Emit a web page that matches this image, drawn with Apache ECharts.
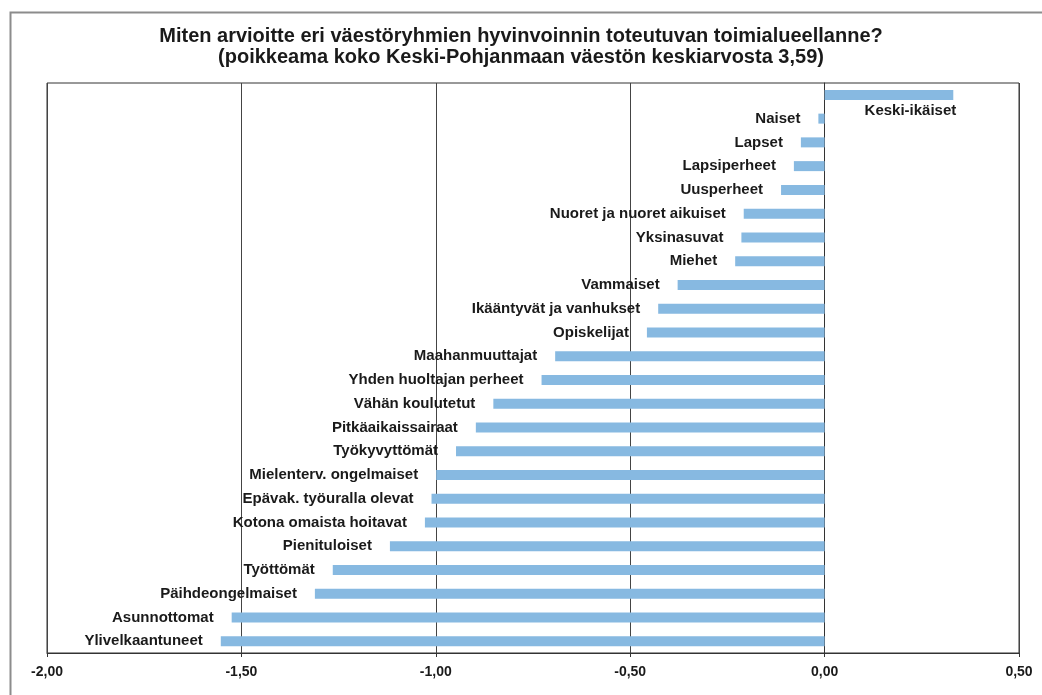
<!DOCTYPE html>
<html>
<head>
<meta charset="utf-8">
<script src="https://cdn.jsdelivr.net/npm/echarts@6/dist/echarts.min.js"></script>
<style>
  html, body { margin: 0; padding: 0; background: #fff; }
  #main { width: 1042px; height: 695px; }
</style>
</head>
<body>
<div id="main"></div>
<script>
// top to bottom, as in the picture
var groups = [
  'Keski-ikäiset', 'Naiset', 'Lapset', 'Lapsiperheet', 'Uusperheet',
  'Nuoret ja nuoret aikuiset', 'Yksinasuvat', 'Miehet', 'Vammaiset',
  'Ikääntyvät ja vanhukset', 'Opiskelijat', 'Maahanmuuttajat',
  'Yhden huoltajan perheet', 'Vähän koulutetut', 'Pitkäaikaissairaat',
  'Työkyvyttömät', 'Mielenterv. ongelmaiset', 'Epävak. työuralla olevat',
  'Kotona omaista hoitavat', 'Pienituloiset', 'Työttömät',
  'Päihdeongelmaiset', 'Asunnottomat', 'Ylivelkaantuneet'
];
var deviation = [
  0.331, -0.016, -0.061, -0.079, -0.112,
  -0.208, -0.214, -0.230, -0.378,
  -0.428, -0.457, -0.693,
  -0.728, -0.852, -0.897,
  -0.948, -0.999, -1.011,
  -1.028, -1.118, -1.265,
  -1.311, -1.525, -1.553
];
var xTicks = [-2, -1.5, -1, -0.5, 0, 0.5];

var chartDom = document.getElementById('main');
var myChart = echarts.init(chartDom);
var font = 'Liberation Sans, Arial, sans-serif';

var barData = deviation.map(function (v) {
  if (v > 0) {
    // positive bar: name sits under the bar end
    return {
      value: v,
      label: { position: ['100%', '100%'], align: 'right', verticalAlign: 'top', offset: [3, 3] }
    };
  }
  return v;
});

var option = {
  animation: false,
  textStyle: { fontFamily: font },
  title: {
    text: 'Miten arvioitte eri väestöryhmien hyvinvoinnin toteutuvan toimialueellanne?\n(poikkeama koko Keski-Pohjanmaan väestön keskiarvosta 3,59)',
    left: 'center',
    top: 21,
    textStyle: { fontFamily: font, fontSize: 20, fontWeight: 'bold', color: '#1a1a1a', lineHeight: 21 }
  },
  graphic: [{
    type: 'rect',
    left: 8, top: 10,
    shape: { width: 1100, height: 720 },
    style: { fill: 'none', stroke: '#8c8c8c', lineWidth: 2 },
    silent: true
  }],
  grid: {
    left: 47, right: 23, top: 83, bottom: 42,
    show: true, borderColor: '#333', borderWidth: 1
  },
  xAxis: {
    type: 'value',
    min: xTicks[0],
    max: xTicks[xTicks.length - 1],
    interval: 0.5,
    axisLine: { show: true, lineStyle: { color: '#333' } },
    axisTick: { show: true, length: 4, lineStyle: { color: '#333' } },
    axisLabel: {
      margin: 12,
      fontSize: 14, fontWeight: 'bold', color: '#1a1a1a',
      formatter: function (v) { return v.toFixed(2).replace('.', ','); }
    },
    splitLine: { show: true, lineStyle: { color: '#444', width: 1 } }
  },
  yAxis: {
    type: 'category',
    data: groups,
    inverse: true,
    axisLine: { show: true, onZero: true, lineStyle: { color: '#333' } },
    axisTick: { show: false },
    axisLabel: { show: false },
    splitLine: { show: false }
  },
  series: [{
    type: 'bar',
    data: barData,
    barWidth: 10,
    itemStyle: { color: '#87b9e1' },
    label: {
      show: true,
      position: 'left',
      distance: 18,
      formatter: '{b}',
      fontFamily: font,
      fontSize: 15,
      fontWeight: 'bold',
      color: '#1a1a1a'
    }
  }]
};

option && myChart.setOption(option);
</script>
</body>
</html>
